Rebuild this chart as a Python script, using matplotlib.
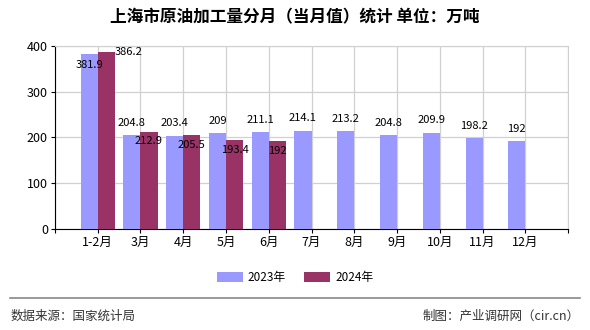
import numpy as np
import matplotlib
matplotlib.use("Agg")
import matplotlib.pyplot as plt

plt.rcParams['font.family'] = ['Noto Sans CJK SC', 'DejaVu Sans']

# 数据
months = ["1-2月", "3月", "4月", "5月", "6月", "7月", "8月", "9月", "10月", "11月", "12月"]
y2023 = [381.9, 204.8, 203.4, 209, 211.1, 214.1, 213.2, 204.8, 209.9, 198.2, 192]
y2024 = [386.2, 212.9, 205.5, 193.4, 192]
series_names = ["2023年", "2024年"]
c2023 = "#9999FF"
c2024 = "#993366"

fig = plt.figure(figsize=(5.9, 3.3), dpi=100)
ax = fig.add_axes([0.093, 0.306, 0.870, 0.555])

x = np.arange(len(months))
w = 0.4
b1 = ax.bar(x[:len(y2023)] - w / 2, y2023, w, color=c2023, label=series_names[0], zorder=3)
b2 = ax.bar(x[:len(y2024)] + w / 2, y2024, w, color=c2024, label=series_names[1], zorder=3)

# 数值标签
for i, (rect, v) in enumerate(zip(b1, y2023)):
    cx = rect.get_x() + rect.get_width() / 2
    if i == 0:
        ax.annotate("%g" % v, (cx, v), xytext=(0, -8), textcoords="offset points",
                    ha="center", va="center", fontsize=8, zorder=5)
    else:
        ax.annotate("%g" % v, (cx, v), xytext=(0, 9), textcoords="offset points",
                    ha="center", va="center", fontsize=8, zorder=5)
for i, (rect, v) in enumerate(zip(b2, y2024)):
    cx = rect.get_x() + rect.get_width() / 2
    if i == 0:
        ax.annotate("%g" % v, (cx, v), xytext=(16, 0), textcoords="offset points",
                    ha="center", va="center", fontsize=8, zorder=5)
    else:
        ax.annotate("%g" % v, (cx, v), xytext=(0, -7), textcoords="offset points",
                    ha="center", va="center", fontsize=8, zorder=5)

ax.set_xlim(-1, len(months))
ax.set_ylim(0, 400)
ax.set_yticks([0, 100, 200, 300, 400])
ax.set_xticks(np.arange(-1, len(months) + 1), minor=False)
ax.set_xticklabels([""] + months + [""])
ax.tick_params(axis="both", labelsize=9, length=3, width=0.8, color="black", pad=2)

ax.grid(True, color="#d0d0d0", linewidth=0.9, zorder=0)
ax.set_axisbelow(True)
ax.spines["top"].set_color("#d0d0d0")
ax.spines["right"].set_color("#d0d0d0")
ax.spines["left"].set_color("black")
ax.spines["bottom"].set_color("black")

fig.text(0.5, 0.947, "上海市原油加工量分月（当月值）统计 单位：万吨", ha="center", va="center",
         fontsize=12, fontweight="bold")

fig.legend(handles=[b1, b2], labels=series_names, loc="center", bbox_to_anchor=(0.5, 0.16),
           ncol=2, frameon=False, fontsize=8.5, handlelength=2.2, handleheight=0.9,
           columnspacing=1.6, handletextpad=0.4)

fig.add_artist(plt.Line2D([0.017, 0.983], [0.097, 0.097], color="#888888", linewidth=1.2,
                          transform=fig.transFigure))
fig.text(0.017, 0.042, "数据来源：国家统计局", ha="left", va="center", fontsize=9, color="#333333")
fig.text(0.983, 0.042, "制图：产业调研网（cir.cn）", ha="right", va="center", fontsize=9, color="#333333")

fig.savefig("out.png", dpi=100)
